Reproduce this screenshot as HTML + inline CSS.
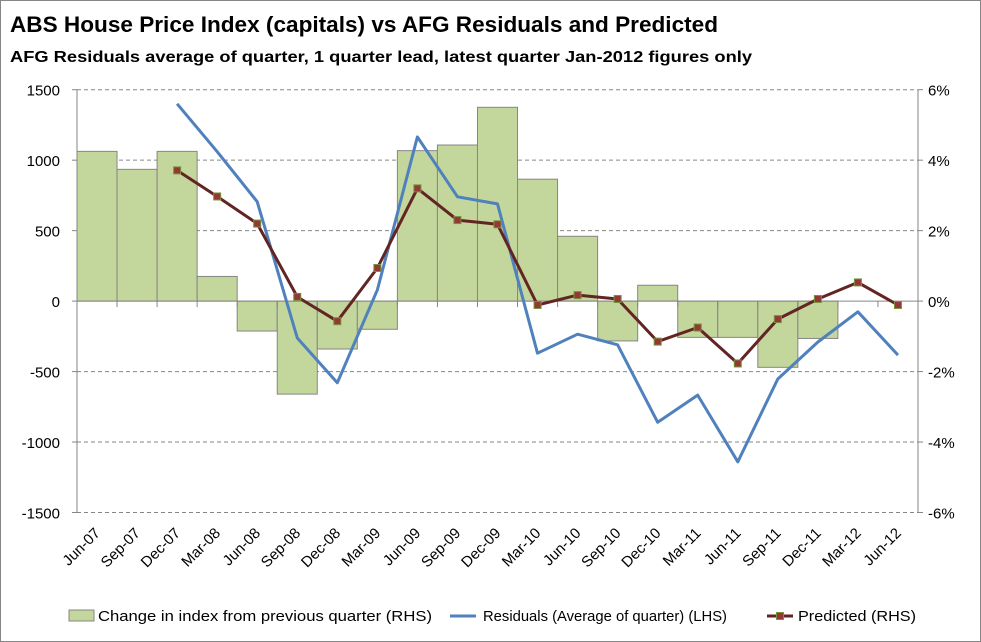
<!DOCTYPE html>
<html><head><meta charset="utf-8"><style>
html,body{margin:0;padding:0;background:#fff;}
svg{display:block;font-family:"Liberation Sans",Calibri,sans-serif;}
</style></head><body>
<svg id="chart" width="981" height="642" viewBox="0 0 981 642" xmlns="http://www.w3.org/2000/svg">
<rect x="0.5" y="0.5" width="980" height="641" fill="#fff" stroke="#868686"/>
<text x="10" y="32" font-size="22" font-weight="bold" fill="#000" textLength="708" lengthAdjust="spacingAndGlyphs">ABS House Price Index (capitals) vs AFG Residuals and Predicted</text>
<text x="10" y="62" font-size="16" font-weight="bold" fill="#000" textLength="742" lengthAdjust="spacingAndGlyphs">AFG Residuals average of quarter, 1 quarter lead, latest quarter Jan-2012 figures only</text>
<g id="grid"></g>
<g id="bars"></g>
<g id="axes"></g>
<g id="lines"></g>
<g id="legend">
 <rect x="69" y="610" width="25" height="11" fill="#c3d69b" stroke="#868686"/>
 <text x="98" y="621" font-size="15" textLength="334" lengthAdjust="spacingAndGlyphs">Change in index from previous quarter (RHS)</text>
 <line x1="450" y1="616" x2="476" y2="616" stroke="#4f81bd" stroke-width="3"/>
 <text x="483" y="621" font-size="15" textLength="244" lengthAdjust="spacingAndGlyphs">Residuals (Average of quarter) (LHS)</text>
 <line x1="767" y1="616" x2="793" y2="616" stroke="#632523" stroke-width="3"/>
 <rect x="776.5" y="612.5" width="7" height="7" fill="#953735" stroke="#77933c"/>
 <text x="798" y="621" font-size="15" textLength="118" lengthAdjust="spacingAndGlyphs">Predicted (RHS)</text>
</g>
</svg>
<script>
const categories=["Jun-07","Sep-07","Dec-07","Mar-08","Jun-08","Sep-08","Dec-08","Mar-09","Jun-09","Sep-09","Dec-09","Mar-10","Jun-10","Sep-10","Dec-10","Mar-11","Jun-11","Sep-11","Dec-11","Mar-12","Jun-12"];
const changePct=[4.25,3.74,4.25,0.7,-0.85,-2.64,-1.36,-0.8,4.27,4.43,5.5,3.46,1.84,-1.13,0.45,-1.03,-1.03,-1.88,-1.06,null,null];
const residuals=[null,null,1400,1060,705,-262,-580,80,1165,740,690,-370,-235,-310,-860,-667,-1140,-553,-290,-76,-383];
const predictedPct=[null,null,3.71,2.97,2.2,0.12,-0.57,0.94,3.2,2.3,2.18,-0.11,0.17,0.06,-1.15,-0.75,-1.77,-0.51,0.06,0.53,-0.11];
const leftTicks=[1500,1000,500,0,-500,-1000,-1500];
const rightTicks=["6%","4%","2%","0%","-2%","-4%","-6%"];
const rightTickVals=[6,4,2,0,-2,-4,-6];

const NS="http://www.w3.org/2000/svg";
const X0=77,X1=918,YT=89.7,YB=512.5;
const cw=(X1-X0)/categories.length;
function yL(v){return YT+(1500-v)/3000*(YB-YT);}
function yR(v){return YT+(6-v)/12*(YB-YT);}
function xC(i){return X0+cw*(i+0.5);}
function mk(tag,attrs,parent){const e=document.createElementNS(NS,tag);for(const k in attrs)e.setAttribute(k,attrs[k]);parent.appendChild(e);return e;}
const grid=document.getElementById('grid'),bars=document.getElementById('bars'),axes=document.getElementById('axes'),lines=document.getElementById('lines');

leftTicks.forEach((v,i)=>{
  if(v!==0){const l=mk('line',{x1:X0,x2:X1,y1:yL(v),y2:yL(v),stroke:'#868686','stroke-dasharray':'4,3'},grid);
  
  }
  const t=mk('text',{x:60,y:yL(v)+6,'text-anchor':'end','font-size':15},axes);t.textContent=v;
  
  
  const tk=mk('line',{x1:X0-5,x2:X0,y1:yL(v),y2:yL(v),stroke:'#868686'},axes);
  
  
});
rightTickVals.forEach((v,i)=>{
  const t=mk('text',{x:928,y:yR(v)+6,'font-size':15},axes);t.textContent=rightTicks[i];
  
  
  const tk=mk('line',{x1:X1,x2:X1+5,y1:yR(v),y2:yR(v),stroke:'#868686'},axes);
  
  
});
changePct.forEach((v,i)=>{
  if(v===null)return;
  const y0=yR(0),y=yR(v);
  const r=mk('rect',{x:X0+cw*i,y:Math.min(y,y0),width:cw,height:Math.abs(y-y0),fill:'#c3d69b',stroke:'#868686','stroke-width':1},bars);
  
  
});
const ax=mk('line',{x1:X0,x2:X0,y1:YT,y2:YB,stroke:'#868686'},axes);


const ax2=mk('line',{x1:X1,x2:X1,y1:YT,y2:YB,stroke:'#868686'},axes);


const ax3=mk('line',{x1:X0,x2:X1,y1:yL(0),y2:yL(0),stroke:'#868686'},axes);


categories.forEach((c,i)=>{
  const tk=mk('line',{x1:X0+cw*(i+1),x2:X0+cw*(i+1),y1:yL(0),y2:yL(0)+6,stroke:'#868686'},axes);
  
  
  const x=xC(i)+4,y=534;
  const t=mk('text',{x:x,y:y,'text-anchor':'end','font-size':15,transform:`rotate(-45 ${x} ${y})`},axes);t.textContent=c;
  
  
});
function poly(vals,fy){const p=[];vals.forEach((v,i)=>{if(v!==null)p.push(xC(i).toFixed(1)+','+fy(v).toFixed(1));});return p.join(' ');}
const rl=mk('polyline',{points:poly(residuals,yL),fill:'none',stroke:'#4f81bd','stroke-width':3,'stroke-linejoin':'round'},lines);


const pl=mk('polyline',{points:poly(predictedPct,yR),fill:'none',stroke:'#632523','stroke-width':3,'stroke-linejoin':'round'},lines);


predictedPct.forEach((v,i)=>{
  if(v===null)return;
  const m=mk('rect',{x:xC(i)-3.5,y:yR(v)-3.5,width:7,height:7,fill:'#953735',stroke:'#77933c','stroke-width':1},lines);
  
  
});
</script>
</body></html>
